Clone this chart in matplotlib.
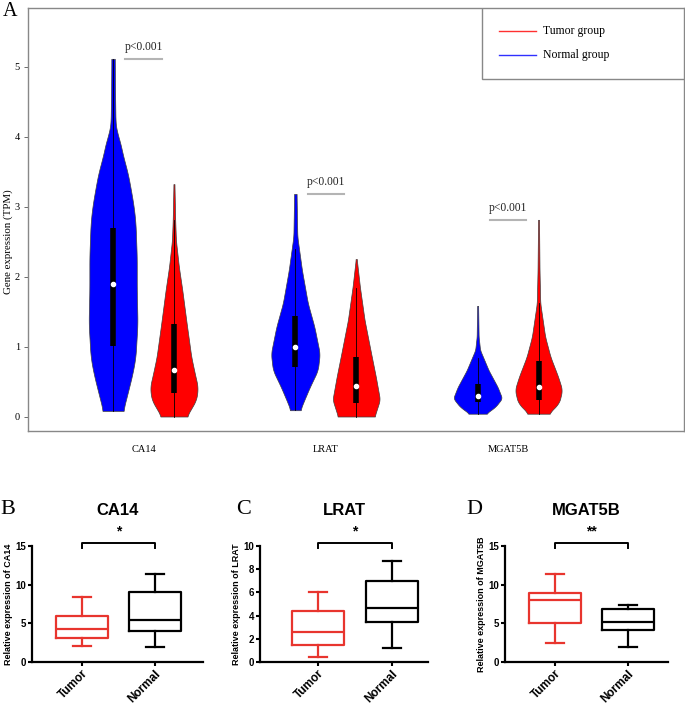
import matplotlib
matplotlib.use('Agg')
import matplotlib.pyplot as plt
import numpy as np
from matplotlib.patches import Rectangle
from matplotlib.lines import Line2D

# ---------------- data ----------------
genes = ['CA14', 'LRAT', 'MGAT5B']

# violin outlines: value levels and relative half-width (1 = widest)
ca14_normal_y = [0.08, 0.38, 0.62, 0.85, 1.33, 1.81, 2.28, 2.76, 2.99, 3.24, 3.48, 3.71, 3.95, 4.08, 4.19, 4.66, 5.11]
ca14_normal_w = [0.41, 0.63, 0.80, 0.92, 1.00, 0.97, 0.97, 0.92, 0.85, 0.73, 0.60, 0.42, 0.27, 0.14, 0.10, 0.08, 0.07]
ca14_tumor_y = [0.0, 0.24, 0.42, 0.62, 0.85, 1.33, 1.81, 2.14, 2.52, 2.81, 3.32]
ca14_tumor_w = [0.52, 0.92, 0.98, 0.85, 0.71, 0.52, 0.34, 0.20, 0.08, 0.05, 0.02]
lrat_normal_y = [0.09, 0.19, 0.42, 0.66, 0.90, 1.28, 1.62, 2.09, 2.57, 3.18]
lrat_normal_w = [0.20, 0.31, 0.59, 0.92, 1.00, 0.78, 0.51, 0.27, 0.08, 0.05]
lrat_tumor_y = [0.0, 0.24, 0.57, 0.90, 1.38, 1.85, 2.25]
lrat_tumor_w = [0.75, 0.97, 0.80, 0.61, 0.34, 0.15, 0.02]
mgat5b_normal_y = [0.04, 0.14, 0.26, 0.42, 0.66, 0.95, 1.14, 1.58]
mgat5b_normal_w = [0.34, 0.73, 1.00, 0.82, 0.45, 0.10, 0.04, 0.02]
mgat5b_tumor_y = [0.04, 0.19, 0.38, 0.57, 0.85, 1.14, 1.62, 2.09, 2.81]
mgat5b_tumor_w = [0.41, 0.84, 0.97, 0.80, 0.49, 0.27, 0.07, 0.04, 0.02]

# inner box plots of the violins
normal_q1 = [1.01, 0.71, 0.21]
normal_q3 = [2.69, 1.44, 0.46]
normal_med = [1.89, 0.99, 0.29]
normal_whi = [5.11, 2.40, 0.83]
tumor_q1 = [0.34, 0.19, 0.24]
tumor_q3 = [1.32, 0.85, 0.79]
tumor_med = [0.66, 0.44, 0.42]
tumor_whi = [2.81, 1.84, 1.62]
p_line_y = [5.11, 3.18, 2.81]
p_text = ['p<0.001', 'p<0.001', 'p<0.001']

# qPCR box plots (B-D)
groups = ['Tumor', 'Normal']
ca14_box = [[2.08, 3.07, 4.33, 5.97, 8.44], [1.90, 4.03, 5.41, 9.09, 11.43]]
lrat_box = [[0.46, 1.44, 2.59, 4.37, 6.06], [1.24, 3.45, 4.63, 6.98, 8.74]]
mgat5b_box = [[2.50, 5.00, 7.97, 8.97, 11.42], [1.98, 4.14, 5.17, 6.90, 7.41]]
stars = ['*', '*', '**']

# ---------------- figure ----------------
W, H = 685, 706
fig = plt.figure(figsize=(W / 100, H / 100), dpi=100)
serif = 'Liberation Serif'
sans = 'Liberation Sans'
RED = '#ff0000'
BLUE = '#0000ff'


def px_rect(l, t, r, b):
    return [l / W, 1 - b / H, (r - l) / W, (b - t) / H]


ax = fig.add_axes(px_rect(28.3, 8, 684, 431))
ax.set_xlim(0.368, 3.965)
ax.set_ylim(-0.207, 5.836)
half = 0.134
off = 0.167

profiles = [
    ((ca14_normal_y, ca14_normal_w), (ca14_tumor_y, ca14_tumor_w)),
    ((lrat_normal_y, lrat_normal_w), (lrat_tumor_y, lrat_tumor_w)),
    ((mgat5b_normal_y, mgat5b_normal_w), (mgat5b_tumor_y, mgat5b_tumor_w)),
]


def smooth_outline(ys, ws, n=300, k=15):
    # soften the corners of the traced outline for drawing
    yy = np.linspace(ys[0], ys[-1], n)
    ww = np.interp(yy, ys, ws)
    pad = np.concatenate([np.full(k, ww[0]), ww, np.full(k, ww[-1])])
    ww = np.convolve(pad, np.ones(k) / k, mode='same')[k:-k]
    return yy, ww


def violin(x, ys, ws, color, q1, q3, med, whi):
    yy, ww = smooth_outline(ys, ws)
    ww = ww * half
    ax.fill_betweenx(yy, x - ww, x + ww, facecolor=color, edgecolor='#404040', lw=0.5, zorder=2)
    ax.plot([x, x], [ys[0], whi], color='black', lw=0.6, zorder=3)
    ax.plot([x, x], [q1, q3], color='black', lw=4, solid_capstyle='butt', zorder=4)
    ax.plot(x, med, 'o', color='white', ms=3, mec='white', zorder=5)


for i, g in enumerate(genes):
    xc = i + 1
    (ny, nw), (ty, tw) = profiles[i]
    violin(xc - off, ny, nw, BLUE, normal_q1[i], normal_q3[i], normal_med[i], normal_whi[i])
    violin(xc + off, ty, tw, RED, tumor_q1[i], tumor_q3[i], tumor_med[i], tumor_whi[i])
    ax.plot([xc - 0.099, xc + 0.099], [p_line_y[i], p_line_y[i]], color='#b4b4b4', lw=1.5, zorder=3)
    ax.annotate(p_text[i], (xc, p_line_y[i]), xytext=(0, 4), textcoords='offset points',
                ha='center', va='bottom', fontsize=8.3, family=serif, color='#222222')

ax.set_xticks(range(1, len(genes) + 1))
ax.set_xticklabels(genes, family=serif, fontsize=7.5)
ax.tick_params(axis='x', length=0, pad=10)
ax.set_yticks(range(0, 6))
ax.tick_params(axis='y', length=3, width=0.6, color='#555555', pad=3, labelsize=7.5)
for lab in ax.get_yticklabels():
    lab.set_family(serif)
for s in ax.spines.values():
    s.set_color('#888888')
    s.set_linewidth(1.0)
ax.set_ylabel('Gene expression (TPM)', family=serif, fontsize=7.8)
ax.yaxis.set_label_coords(-0.0235, 0.447)

# legend box
ax.add_patch(Rectangle((0.692, 0.832), 0.308, 0.168, transform=ax.transAxes,
                       facecolor='white', edgecolor='#888888', lw=1.0, zorder=6))
for yy, col, lab in [(0.946, '#ff3030', 'Tumor group'), (0.889, '#3030ff', 'Normal group')]:
    ax.add_line(Line2D([0.718, 0.774], [yy, yy], transform=ax.transAxes, color=col, lw=1.0, zorder=7))
    ax.text(0.785, yy, lab, transform=ax.transAxes, va='center', ha='left',
            family=serif, fontsize=8.5, zorder=7)

fig.text(3 / W, 1 - 2 / H, 'A', family=serif, fontsize=14.5, va='top', ha='left')

# ---------------- bottom box plots ----------------
panels = [
    ('B', 'CA14', ca14_box, (32, 203), (-0.685, 1.658), 15, [0, 5, 10, 15], (0, 500)),
    ('C', 'LRAT', lrat_box, (260, 428), (-0.78, 1.49), 10, [0, 2, 4, 6, 8, 10], (236, 500)),
    ('D', 'MGAT5B', mgat5b_box, (505, 668), (-0.685, 1.548), 15, [0, 5, 10, 15], (466, 500)),
]
BRED = '#e8352e'
for k, (letter, gene, box, (l, r), xlim, ymax, yt, (lx, ly)) in enumerate(panels):
    bx = fig.add_axes(px_rect(l, 546, r, 662))
    stats = []
    for b in box:
        stats.append(dict(whislo=b[0], q1=b[1], med=b[2], q3=b[3], whishi=b[4], fliers=[]))
    for j, col in enumerate([BRED, 'black']):
        bx.bxp([stats[j]], positions=[j], widths=0.7, capwidths=0.24, showfliers=False,
               boxprops=dict(color=col, lw=1.6), whiskerprops=dict(color=col, lw=1.6),
               capprops=dict(color=col, lw=1.6), medianprops=dict(color=col, lw=1.6))
    bx.set_xlim(*xlim)
    bx.set_ylim(0, ymax)
    bx.set_yticks(yt)
    bx.set_xticks([0, 1])
    bx.set_xticklabels(groups, rotation=45, ha='right', rotation_mode='anchor',
                       family=sans, fontweight='bold', fontsize=8.5)
    for lab in bx.get_yticklabels():
        lab.set_family(sans)
        lab.set_fontweight('bold')
    bx.tick_params(axis='y', labelsize=7, length=3, width=1.5, pad=1)
    bx.tick_params(axis='x', length=3, width=1.5, pad=1)
    for s in ['top', 'right']:
        bx.spines[s].set_visible(False)
    for s in ['left', 'bottom']:
        bx.spines[s].set_linewidth(1.6)
    bx.set_ylabel('Relative expression of ' + gene, family=sans, fontweight='bold',
                  fontsize=6.5, labelpad=2)
    # significance bracket
    top = ymax * 1.027
    foot = ymax * 0.98
    bx.plot([0, 0, 1, 1], [foot, top, top, foot], color='black', lw=1.4, clip_on=False)
    bx.text(0.5, top + ymax * 0.04, stars[k], ha='center', va='bottom', family=sans,
            fontweight='bold', fontsize=10)
    bx.set_title(gene, family=sans, fontweight='bold', fontsize=12, pad=22)
    fig.text(lx / W, 1 - ly / H, letter, family=serif, fontsize=16, va='top', ha='left')

fig.savefig('out.png', dpi=100)
